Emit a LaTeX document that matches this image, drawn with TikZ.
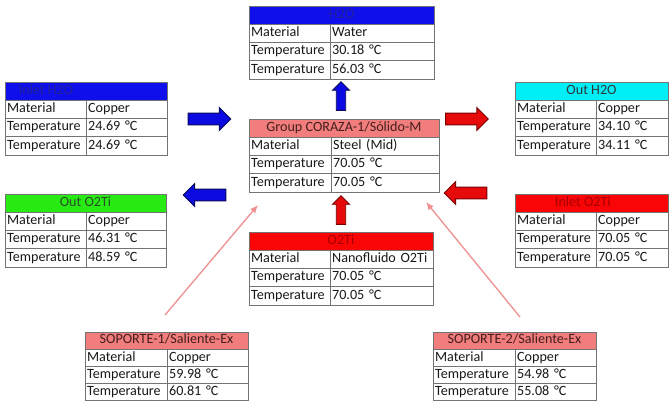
\documentclass[tikz,border=0pt]{standalone}
\usepackage{fontspec}
\setmainfont{Carlito}
\usetikzlibrary{shapes.arrows,arrows.meta}
\definecolor{gridgray}{RGB}{115,115,115}
\definecolor{celltext}{RGB}{25,25,25}
\definecolor{hblue}{RGB}{15,15,235}
\definecolor{hbluetext}{RGB}{35,35,150}
\definecolor{hcyan}{RGB}{0,238,245}
\definecolor{hcyantext}{RGB}{45,55,60}
\definecolor{hgreen}{RGB}{40,235,20}
\definecolor{hgreentext}{RGB}{40,75,40}
\definecolor{hred}{RGB}{250,5,5}
\definecolor{hredtext}{RGB}{165,0,0}
\definecolor{hpink}{RGB}{242,125,125}
\definecolor{hpinktext}{RGB}{70,30,30}
\definecolor{arrblue}{RGB}{10,10,225}
\definecolor{arrbluedark}{RGB}{10,10,90}
\definecolor{arrred}{RGB}{230,10,10}
\definecolor{arrreddark}{RGB}{120,0,0}
\definecolor{pinkline}{RGB}{240,145,145}
\def\dtrow{13.7pt}
\tikzset{
  x=0.75pt, y=-0.75pt,
  hdr/.style={draw=gridgray, line width=0.6pt, outer sep=0pt, minimum height=\dtrow, inner sep=0pt,
    text height=7.3pt, text depth=2.4pt, font=\fontsize{10.6}{12}\selectfont},
  cell/.style={draw=gridgray, line width=0.6pt, outer sep=0pt, anchor=north west, minimum height=\dtrow,
    inner ysep=0pt, inner xsep=1.6pt, align=left, text height=7.3pt, text depth=2.4pt,
    text=celltext, font=\fontsize{10.6}{12}\selectfont},
  hb/.style={fill=hblue, text=hbluetext},
  hc/.style={fill=hcyan, text=hcyantext},
  hg/.style={fill=hgreen, text=hgreentext},
  hr/.style={fill=hred, text=hredtext},
  hp/.style={fill=hpink, text=hpinktext},
  blockarrow/.style={single arrow, line width=0.7pt, inner xsep=0pt, inner ysep=4.1pt,
    text height=0pt, text depth=0pt, minimum height=32pt, single arrow head extend=4.1pt},
  smallarrow/.style={single arrow, line width=0.7pt, inner xsep=0pt, inner ysep=3.2pt,
    text height=0pt, text depth=0pt, minimum height=21.5pt, single arrow head extend=2.8pt},
  bluearr/.style={fill=arrblue, draw=arrbluedark},
  redarr/.style={fill=arrred, draw=arrreddark},
  pinkconn/.style={draw=pinkline, line width=1pt, -{Latex[length=6pt,width=5pt]}}
}
\newcommand{\dtable}[9]{%
  \pgfmathsetmacro\dtW{(#3+#4)*0.75}%
  \pgfmathsetmacro\dtA{#3*0.75-3.2}%
  \pgfmathsetmacro\dtB{#4*0.75-3.2}%
  \node[hdr,#5,minimum width=\dtW pt,anchor=north west] (#1-h) at #2 {#6};
  \node[cell,text width=\dtA pt] (#1-a1) at (#1-h.south west) {Material};
  \node[cell,text width=\dtB pt] (#1-b1) at (#1-a1.north east) {#7};
  \node[cell,text width=\dtA pt] (#1-a2) at (#1-a1.south west) {Temperature};
  \node[cell,text width=\dtB pt] (#1-b2) at (#1-a2.north east) {#8};
  \node[cell,text width=\dtA pt] (#1-a3) at (#1-a2.south west) {Temperature};
  \node[cell,text width=\dtB pt] (#1-b3) at (#1-a3.north east) {#9};
}
\begin{document}
\begin{tikzpicture}
\useasboundingbox[fill=white] (0,0) rectangle (670,402);

\dtable{h2o}{(249,6)}{81}{104}{hb}{H2O}{Water}{30.18 °C}{56.03 °C}
\dtable{inh}{(5,82)}{81}{81}{hb}{Inlet H2O\hspace*{60pt}}{Copper}{24.69 °C}{24.69 °C}
\dtable{outo}{(5,194)}{81}{80}{hg}{Out O2Ti}{Copper}{46.31 °C}{48.59 °C}
\dtable{core}{(249,119)}{82}{108}{hp}{Group CORAZA-1/Sólido-M}{Steel (Mid)}{70.05 °C}{70.05 °C}
\dtable{o2ti}{(249,232)}{81}{103}{hr}{O2Ti}{Nanofluido O2Ti}{70.05 °C}{70.05 °C}
\dtable{outh}{(515,82)}{81}{72}{hc}{Out H2O}{Copper}{34.10 °C}{34.11 °C}
\dtable{ino}{(515,194)}{81}{72}{hr}{Inlet O2Ti\hspace*{13pt}}{Copper}{70.05 °C}{70.05 °C}
\def\dtrow{12.9pt}
\dtable{s1}{(85,332)}{82}{81}{hp}{SOPORTE-1/Saliente-Ex}{Copper}{59.98 °C}{60.81 °C}
\dtable{s2}{(433,332)}{82}{81}{hp}{SOPORTE-2/Saliente-Ex}{Copper}{54.98 °C}{55.08 °C}

% block arrows
\node[blockarrow,bluearr] (a-inh) at (206.5,119) {};
\node[blockarrow,bluearr,rotate=180] (a-outo) at (207.5,195) {};
\node[blockarrow,redarr] (a-outh) at (464,119) {};
\node[blockarrow,redarr,rotate=180] (a-ino) at (468.5,193) {};
\node[smallarrow,bluearr,rotate=90] (a-h2o) at (341,98.5) {};
\node[smallarrow,redarr,rotate=90] (a-o2ti) at (341,212.5) {};

% support connectors
\coordinate (f1) at (165,315);
\coordinate (t1) at (258,205);
\coordinate (f2) at (520,317);
\coordinate (t2) at (426,202);
\draw[pinkconn] (f1) -- (t1);
\draw[pinkconn] (f2) -- (t2);
\end{tikzpicture}
\end{document}
